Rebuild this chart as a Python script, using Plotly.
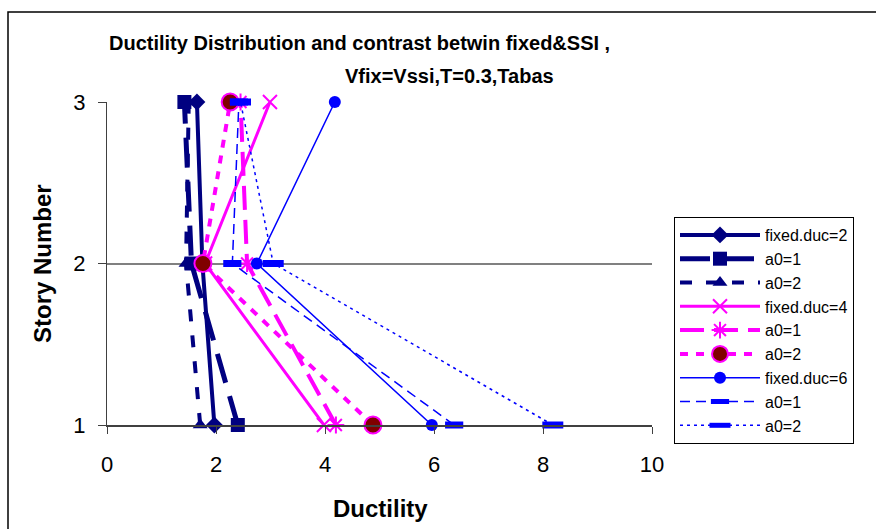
import plotly.graph_objects as go

stories = [1, 2, 3]
names = ["fixed.duc=2", "a0=1", "a0=2", "fixed.duc=4", "a0=1", "a0=2", "fixed.duc=6", "a0=1", "a0=2"]
fixed2 = [1.97, 1.75, 1.65]
a1_2 = [2.40, 1.55, 1.42]
a2_2 = [1.71, 1.45, 1.50]
fixed4 = [3.98, 1.80, 2.99]
a1_4 = [4.20, 2.57, 2.45]
a2_4 = [4.88, 1.76, 2.26]
fixed6 = [5.96, 2.75, 4.18]
a1_6 = [6.37, 2.30, 2.42]
a2_6 = [8.18, 3.05, 2.45]
series = [fixed2, a1_2, a2_2, fixed4, a1_4, a2_4, fixed6, a1_6, a2_6]

NAVY = "#000080"
MAG = "#FF00FF"
BLUE = "#0000FF"
styles = [
    dict(line=dict(color=NAVY, width=4), marker=dict(symbol="diamond", size=13, color=NAVY)),
    dict(line=dict(color=NAVY, width=5, dash="30px,14px"), marker=dict(symbol="square", size=14, color=NAVY)),
    dict(line=dict(color=NAVY, width=4, dash="12px,14px"), marker=dict(symbol="triangle-up", size=13, color=NAVY)),
    dict(line=dict(color=MAG, width=3), marker=dict(symbol="x-thin-open", size=14, color=MAG, line=dict(color=MAG, width=2))),
    dict(line=dict(color=MAG, width=4, dash="24px,10px"), marker=dict(symbol="asterisk-open", size=14, color=MAG, line=dict(color=MAG, width=2))),
    dict(line=dict(color=MAG, width=4, dash="8px,8px"), marker=dict(symbol="circle", size=17, color="#800000", line=dict(color=MAG, width=2))),
    dict(line=dict(color=BLUE, width=1.5), marker=dict(symbol="circle", size=12, color=BLUE)),
    dict(line=dict(color=BLUE, width=1.5, dash="10px,6px"), marker=dict(symbol="line-ew-open", size=13, color=BLUE, line=dict(color=BLUE, width=7))),
    dict(line=dict(color=BLUE, width=1.5, dash="3px,4px"), marker=dict(symbol="line-ew-open", size=15, color=BLUE, line=dict(color=BLUE, width=7))),
]

fig = go.Figure()
for nm, vals, st in zip(names, series, styles):
    fig.add_trace(go.Scatter(x=vals, y=stories, name=nm, mode="lines+markers",
                             cliponaxis=False, **st))

L, R, T, B = 107, 652, 102, 425
W, H = 876, 529
pw, ph = R - L, B - T

def px(x):
    return (x - L) / pw

def py(y):
    return (B - y) / ph

fig.update_layout(
    width=W, height=H,
    margin=dict(l=L, r=W - R, t=T, b=H - B, pad=0),
    paper_bgcolor="white", plot_bgcolor="white",
    font=dict(family="Liberation Sans, Arial", color="black"),
    showlegend=True,
    legend=dict(x=px(674), y=py(217), xanchor="left", yanchor="top",
                bordercolor="black", borderwidth=1, bgcolor="white",
                font=dict(size=16), itemwidth=80, tracegroupgap=0),
    xaxis=dict(range=[0, 10], dtick=2, showgrid=False, zeroline=False,
               showline=True, linecolor="#404040", linewidth=2,
               ticks="outside", ticklen=7, tickcolor="#404040",
               ticklabelstandoff=12,
               tickfont=dict(size=22), fixedrange=True),
    yaxis=dict(range=[1, 3], dtick=1, showgrid=True, gridcolor="#808080", gridwidth=2,
               zeroline=False, showline=True, linecolor="#404040", linewidth=1,
               ticks="outside", ticklen=8, tickcolor="#404040",
               ticklabelstandoff=8,
               tickfont=dict(size=22), fixedrange=True),
    annotations=[
        dict(text="<b>Ductility Distribution and contrast betwin fixed&amp;SSI ,</b>",
             xref="paper", yref="paper", x=px(359), y=py(43), xanchor="center", yanchor="middle",
             showarrow=False, font=dict(size=20)),
        dict(text="<b>Vfix=Vssi,T=0.3,Tabas</b>",
             xref="paper", yref="paper", x=px(449), y=py(76), xanchor="center", yanchor="middle",
             showarrow=False, font=dict(size=20)),
        dict(text="<b>Ductility</b>",
             xref="paper", yref="paper", x=px(380), y=py(508), xanchor="center", yanchor="middle",
             showarrow=False, font=dict(size=24)),
        dict(text="<b>Story Number</b>", textangle=-90,
             xref="paper", yref="paper", x=px(42), y=py(264), xanchor="center", yanchor="middle",
             showarrow=False, font=dict(size=24)),
    ],
    shapes=[
        dict(type="rect", xref="paper", yref="paper",
             x0=px(8), x1=px(900), y0=py(560), y1=py(12),
             line=dict(color="black", width=1.5), fillcolor="rgba(0,0,0,0)", layer="below"),
    ],
)

fig.write_html("out.html")
